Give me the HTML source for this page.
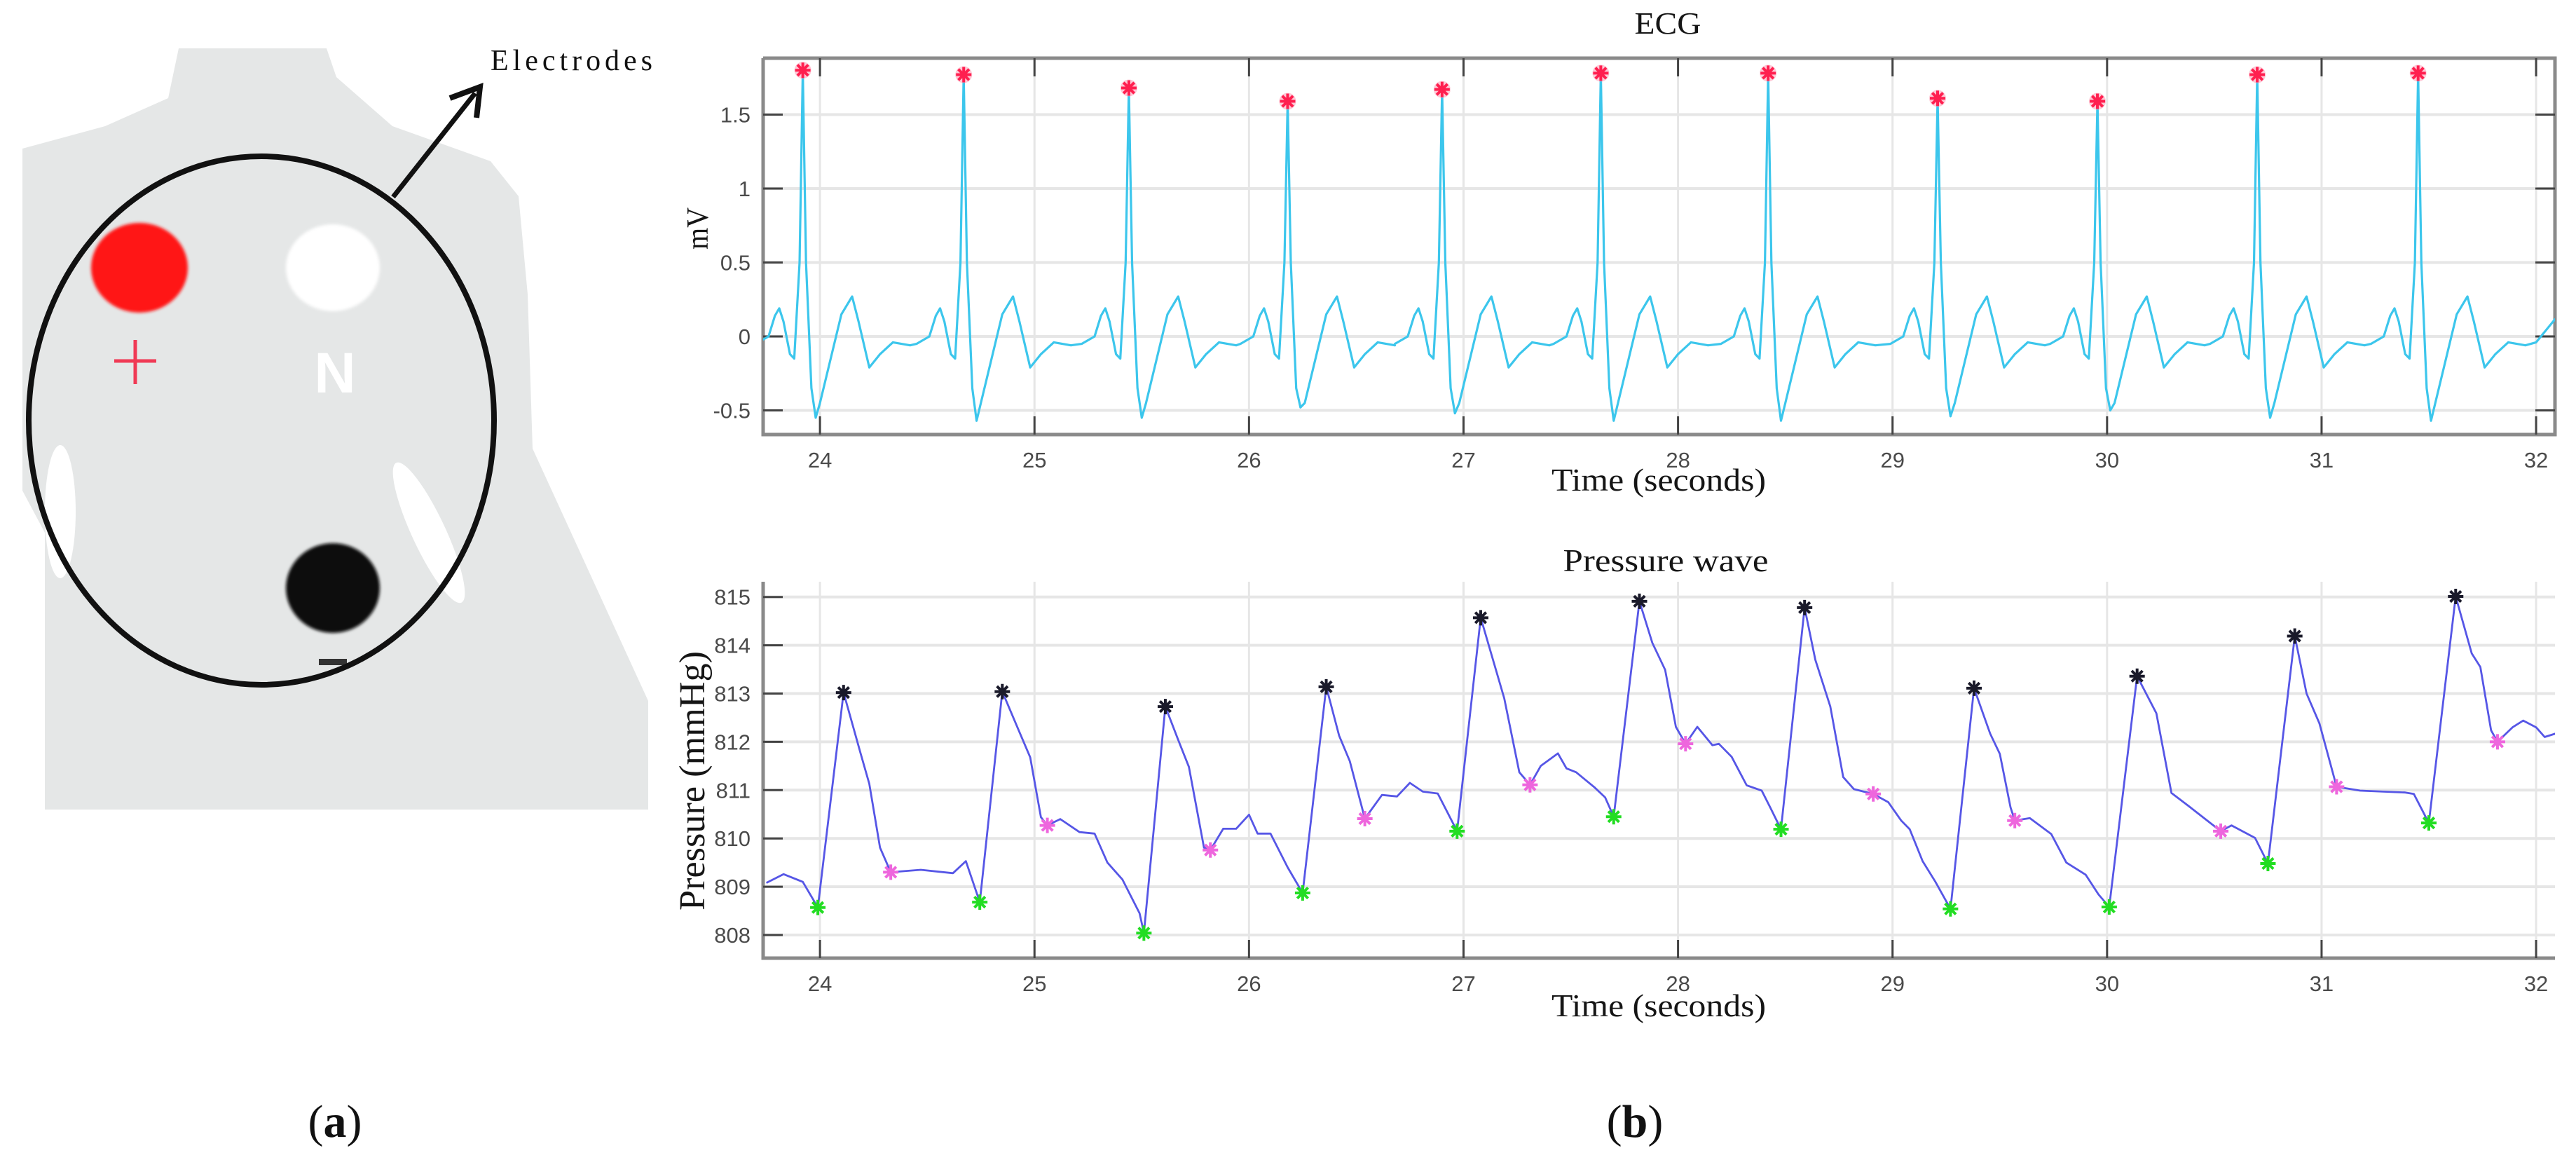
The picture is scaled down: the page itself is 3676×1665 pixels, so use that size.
<!DOCTYPE html>
<html><head><meta charset="utf-8"><style>
html,body{margin:0;padding:0;background:#fff;}
svg{display:block;}
</style></head><body>
<svg id="fig" width="3676" height="1665" viewBox="0 0 3676 1665" xmlns="http://www.w3.org/2000/svg">
<defs>
<clipPath id="ecgClip"><rect x="1089" y="83" width="2557" height="537"/></clipPath>
<clipPath id="prClip"><rect x="1089" y="830" width="2557" height="537"/></clipPath>
<filter id="blur"><feGaussianBlur stdDeviation="2"/></filter>
</defs>
<!-- Panel (a) -->
<g>
<polygon fill="#e5e7e7" points="255,69 466,69 480,110 560,180 700,230 740,280 753,420 760,640 925,1000 925,1155 64,1155 64,760 32,700 32,212 150,180 240,140"/>
<ellipse cx="86" cy="730" rx="22" ry="95" fill="#fff"/>
<ellipse cx="612" cy="760" rx="24" ry="110" fill="#fff" transform="rotate(-25 612 760)"/>
<ellipse cx="199" cy="382" rx="69" ry="64" fill="#ff1414" filter="url(#blur)"/>
<ellipse cx="475" cy="382" rx="67" ry="62" fill="#fff" filter="url(#blur)"/>
<ellipse cx="475" cy="839" rx="67" ry="64" fill="#0a0a0a" filter="url(#blur)"/>
<g stroke="#f03a55" stroke-width="5"><line x1="163" y1="515" x2="223" y2="515"/><line x1="193" y1="485" x2="193" y2="548"/></g>
<text x="478" y="560" font-family="Liberation Sans, sans-serif" font-weight="bold" font-size="82" fill="#fff" text-anchor="middle">N</text>
<rect x="455" y="940" width="40" height="9" fill="#333"/>
<ellipse cx="373" cy="600" rx="332" ry="377" fill="none" stroke="#111" stroke-width="8"/>
<line x1="561" y1="281" x2="678" y2="133" stroke="#111" stroke-width="7"/>
<polyline points="642,140 685,124 680,168" fill="none" stroke="#111" stroke-width="8" stroke-linejoin="miter"/>
<text x="700" y="100" font-family="Liberation Serif, serif" font-size="42" fill="#111" textLength="231">Electrodes</text>
<text x="478" y="1622" font-family="Liberation Serif, serif" font-size="66" fill="#111" text-anchor="middle">(<tspan font-weight="bold">a</tspan>)</text>
</g>
<text x="2333" y="1622" font-family="Liberation Serif, serif" font-size="66" fill="#111" text-anchor="middle">(<tspan font-weight="bold">b</tspan>)</text>

<g id="ecg"></g>
<g id="pr"></g>
</svg>
<script>
// ---------- ECG data ----------
const ecgXTicks = [24,25,26,27,28,29,30,31,32];
const ecgYTicks = [-0.5,0,0.5,1,1.5];
const ecgYTickLabels = ['-0.5','0','0.5','1','1.5'];
const rPeakTimes = [23.92,24.67,25.44,26.18,26.90,27.64,28.42,29.21,29.955,30.70,31.45];
const rPeakValues = [1.80,1.77,1.68,1.59,1.67,1.78,1.78,1.61,1.59,1.77,1.78];
const sWaveValues = [-0.55,-0.57,-0.55,-0.48,-0.52,-0.57,-0.57,-0.54,-0.50,-0.55,-0.57];
const beatOffsets = [-0.22,-0.16,-0.13,-0.11,-0.09,-0.06,-0.04,-0.015,0,0.015,0.04,0.06,0.08,0.18,0.23,0.26,0.31,0.36,0.42,0.5];
const beatValues = [-0.05,0.0,0.14,0.19,0.1,-0.12,-0.15,0.5,null,0.5,-0.35,'S',-0.45,0.15,0.27,0.1,-0.21,-0.12,-0.04,-0.06];
const ecgTailTimes = [32.0,32.09];
const ecgTailValues = [-0.04,0.12];

// ---------- Pressure data ----------
const prYTicks = [808,809,810,811,812,813,814,815];
const prTimes = [23.75,23.83,23.92,23.99,24.11,24.19,24.23,24.28,24.33,24.47,24.62,24.68,24.745,24.85,24.93,24.98,25.03,25.06,25.12,25.21,25.28,25.34,25.41,25.49,25.51,25.61,25.67,25.72,25.79,25.82,25.88,25.94,26.0,26.04,26.1,26.18,26.25,26.36,26.42,26.47,26.54,26.62,26.69,26.75,26.81,26.88,26.97,27.08,27.19,27.26,27.31,27.36,27.44,27.48,27.525,27.61,27.66,27.70,27.82,27.88,27.94,27.99,28.035,28.09,28.16,28.19,28.25,28.32,28.39,28.43,28.48,28.59,28.64,28.71,28.77,28.82,28.91,28.98,29.04,29.08,29.14,29.20,29.27,29.38,29.455,29.50,29.55,29.57,29.64,29.74,29.81,29.90,29.96,30.01,30.14,30.23,30.30,30.38,30.53,30.58,30.69,30.75,30.875,30.93,30.99,31.07,31.18,31.39,31.43,31.50,31.625,31.70,31.74,31.79,31.82,31.89,31.94,32.0,32.04,32.09];
const prValues = [809.08,809.26,809.1,808.57,813.02,811.75,811.13,809.81,809.30,809.35,809.28,809.53,808.68,813.04,812.2,811.68,810.44,810.27,810.4,810.13,810.10,809.5,809.15,808.45,808.04,812.73,812.04,811.48,809.81,809.76,810.2,810.2,810.49,810.1,810.1,809.4,808.87,813.14,812.13,811.6,810.41,810.9,810.87,811.15,810.97,810.93,810.15,814.57,812.9,811.37,811.11,811.5,811.76,811.45,811.37,811.06,810.85,810.45,814.91,814.05,813.49,812.31,811.96,812.31,811.93,811.96,811.69,811.10,810.99,810.64,810.19,814.78,813.70,812.73,811.27,811.02,810.92,810.75,810.37,810.19,809.53,809.1,808.54,813.11,812.17,811.75,810.64,810.37,810.42,810.09,809.50,809.25,808.84,808.58,813.36,812.59,810.94,810.67,810.15,810.27,810.01,809.48,814.19,813.0,812.38,811.07,810.99,810.95,810.92,810.32,815.01,813.83,813.55,812.24,812.0,812.3,812.44,812.3,812.1,812.17];
const systolicTimes = [24.11,24.85,25.61,26.36,27.08,27.82,28.59,29.38,30.14,30.875,31.625];
const systolicValues = [813.02,813.04,812.73,813.14,814.57,814.91,814.78,813.11,813.36,814.19,815.01];
const footTimes = [23.99,24.745,25.51,26.25,26.97,27.70,28.48,29.27,30.01,30.75,31.50];
const footValues = [808.57,808.68,808.04,808.87,810.15,810.45,810.19,808.54,808.58,809.48,810.32];
const dicroticTimes = [24.33,25.06,25.82,26.54,27.31,28.035,28.91,29.57,30.53,31.07,31.82];
const dicroticValues = [809.30,810.27,809.76,810.41,811.11,811.96,810.92,810.37,810.15,811.07,812.0];

const NS='http://www.w3.org/2000/svg';
const L=1089,R=3646,T0=23.735,T1=32.088;
const xs=t=>L+(t-T0)*(R-L)/(T1-T0);
function mk(tag,attrs,parent){const e=document.createElementNS(NS,tag);for(const k in attrs)e.setAttribute(k,attrs[k]);parent.appendChild(e);return e;}
function star(parent,x,y,color,halo){
  const g=mk('g',{},parent);
  const s=11;
  if(halo){mk('circle',{cx:x,cy:y,r:12,fill:halo,opacity:0.55},g);}
  mk('path',{d:`M${x-s},${y}H${x+s}M${x},${y-s}V${y+s}M${x-s*0.7},${y-s*0.7}L${x+s*0.7},${y+s*0.7}M${x-s*0.7},${y+s*0.7}L${x+s*0.7},${y-s*0.7}`,stroke:color,'stroke-width':4,fill:'none'},g);
  return g;
}
function axes(g,top,bot,ys,yTicks,yLabels,boxOn){
  // grid
  for(const t of ecgXTicks){const x=xs(t);const l=mk('line',{x1:x,x2:x,y1:top,y2:bot,stroke:'#e6e6e6','stroke-width':3},g);
    
    }
  yTicks.forEach(v=>{const y=ys(v);const l=mk('line',{x1:L,x2:R,y1:y,y2:y,stroke:'#e6e6e6','stroke-width':4},g);
    
    });
  // axis lines
  const ax=mk('path',{d:`M${L},${top}V${bot}H${R}`+(boxOn?`V${top}H${L}`:''),stroke:'#8a8a8a','stroke-width':5,fill:'none'},g);
  
  
  for(const t of ecgXTicks){const x=xs(t);
    mk('line',{x1:x,x2:x,y1:bot,y2:bot-26,stroke:'#444','stroke-width':3},g);
    if(boxOn)mk('line',{x1:x,x2:x,y1:top,y2:top+26,stroke:'#444','stroke-width':3},g);
    const tx=mk('text',{x:x,y:bot+47,'text-anchor':'middle','font-family':'Liberation Sans, sans-serif','font-size':31,fill:'#4a4a4a'},g);
    tx.textContent=String(t);
    
    }
  yTicks.forEach((v,i)=>{const y=ys(v);
    mk('line',{x1:L,x2:L+28,y1:y,y2:y,stroke:'#444','stroke-width':3},g);
    if(boxOn)mk('line',{x1:R,x2:R-28,y1:y,y2:y,stroke:'#444','stroke-width':3},g);
    const tx=mk('text',{x:L-18,y:y+11,'text-anchor':'end','font-family':'Liberation Sans, sans-serif','font-size':31,fill:'#4a4a4a'},g);
    tx.textContent=yLabels[i];
    
    });
}
function label(g,txt,x,y,size,len,rot,name){
  const t=mk('text',{x:x,y:y,'text-anchor':'middle','font-family':'Liberation Serif, serif','font-size':size,fill:'#151515',textLength:len,lengthAdjust:'spacingAndGlyphs'},g);
  if(rot)t.setAttribute('transform',`rotate(-90 ${x} ${y})`);
  t.textContent=txt;
  
  
}
// ---- ECG chart ----
(function(){
  const g=document.getElementById('ecg');
  const top=83,bot=620;
  const ys=v=>480-v*211;
  axes(g,top,bot,ys,ecgYTicks,ecgYTickLabels,true);
  let pts=[];
  rPeakTimes.forEach((tr,i)=>{
    beatOffsets.forEach((o,j)=>{
      let v=beatValues[j];
      if(v===null)v=rPeakValues[i];
      if(v==='S')v=sWaveValues[i];
      pts.push([tr+o,v]);
    });
  });
  ecgTailTimes.forEach((t,i)=>pts.push([t,ecgTailValues[i]]));
  const d=pts.map((p,i)=>(i?'L':'M')+xs(p[0]).toFixed(1)+','+ys(p[1]).toFixed(1)).join('');
  const line=mk('path',{d:d,fill:'none',stroke:'#3cc6ec','stroke-width':3.2,'stroke-linejoin':'round','clip-path':'url(#ecgClip)'},g);
  
  
  rPeakTimes.forEach((t,i)=>{
    const s=star(g,xs(t),ys(rPeakValues[i]),'#ff1f4f','#ff9ab5');
    
    
  });
  label(g,'ECG',2380,48,44,95,false,'ecg-title');
  label(g,'Time (seconds)',2367,700,46,306,false,'ecg-x-axis-title');
  label(g,'mV',1010,326,44,60,true,'ecg-y-axis-title');
})();
// ---- Pressure chart ----
(function(){
  const g=document.getElementById('pr');
  const top=830,bot=1367;
  const ys=v=>1334-(v-808)*68.9;
  axes(g,top,bot,ys,prYTicks,prYTicks.map(String),false);
  const d=prTimes.map((t,i)=>(i?'L':'M')+xs(t).toFixed(1)+','+ys(prValues[i]).toFixed(1)).join('');
  const line=mk('path',{d:d,fill:'none',stroke:'#5656e6','stroke-width':2.8,'stroke-linejoin':'round','clip-path':'url(#prClip)'},g);
  
  
  systolicTimes.forEach((t,i)=>{const s=star(g,xs(t),ys(systolicValues[i]),'#1a1a2a',null);
    
    });
  footTimes.forEach((t,i)=>{const s=star(g,xs(t),ys(footValues[i]),'#22dd22',null);
    
    });
  dicroticTimes.forEach((t,i)=>{const s=star(g,xs(t),ys(dicroticValues[i]),'#ee66dd',null);
    
    });
  label(g,'Pressure wave',2377,815,46,293,false,'pressure-title');
  label(g,'Time (seconds)',2367,1450,46,306,false,'pressure-x-axis-title');
  label(g,'Pressure (mmHg)',1005,1114,52,370,true,'pressure-y-axis-title');
})();
</script>
</body></html>
